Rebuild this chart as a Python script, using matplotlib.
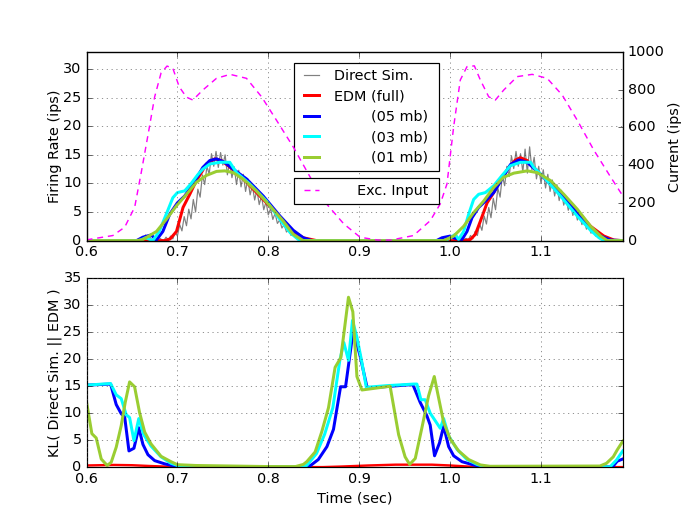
import numpy as np
import matplotlib
matplotlib.use('Agg')
import matplotlib.pyplot as plt

plt.style.use('classic')

# ---------------- верхній графік: частота спайків ----------------
# прямий розрахунок (шумна крива), крок 0.0025 с
gray_step = 0.0025
gray_start1 = 0.6625
gray_vals1 = [0.3, 1.0, 0.2, 0.6, 0.0, 0.4, 0.1, 0.5, 0.2, 0.0,
              0.6, 0.1, 0.8, 0.3, 1.5, 0.8, 2.8, 1.7, 4.2, 2.6,
              5.5, 3.8, 7.2, 5.0, 9.0, 7.6, 11.5, 9.8, 13.0, 11.6,
              15.2, 13.0, 15.6, 12.8, 15.4, 13.2, 15.0, 11.5, 13.8, 11.0,
              12.9, 9.8, 12.3, 9.4, 11.6, 8.6, 10.8, 8.0, 9.6, 7.1,
              8.9, 6.3, 7.8, 5.4, 6.8, 4.5, 5.6, 3.7, 4.8, 3.0,
              3.6, 2.2, 2.8, 1.5, 1.9, 0.9, 1.2, 0.5, 0.7, 0.2,
              0.3, 0.0, 0.1, 0.0]
gray_start2 = 0.995
gray_vals2 = [0.2, 0.6, 0.1, 0.5, 0.0, 0.3, 0.1, 0.6, 0.2, 0.4,
              0.1, 0.9, 0.3, 1.6, 0.9, 2.9, 1.8, 4.3, 2.9, 5.8,
              4.0, 7.4, 5.4, 9.2, 7.6, 11.4, 9.6, 13.0, 11.2, 14.8,
              12.6, 15.6, 13.0, 15.2, 12.0, 16.0, 11.8, 16.4, 12.4, 14.6,
              10.8, 13.0, 10.0, 12.4, 9.2, 11.6, 8.6, 10.6, 7.8, 9.8,
              7.0, 8.8, 6.2, 7.6, 5.3, 6.6, 4.4, 5.6, 3.6, 4.6,
              2.8, 3.6, 2.0, 2.6, 1.3, 1.8, 0.8, 1.1, 0.4, 0.6,
              0.2, 0.3, 0.0, 0.1, 0.0]

red_t = [0.600, 0.686, 0.692, 0.699, 0.7062, 0.7136, 0.7209, 0.7264, 0.7319, 0.7411,
         0.7485, 0.7558, 0.7687, 0.7834, 0.7981, 0.8128, 0.8275, 0.8385, 0.8532,
         1.015, 1.0223, 1.0278, 1.0333, 1.0407, 1.048, 1.0553, 1.0645, 1.0719, 1.0774,
         1.0848, 1.0958, 1.1105, 1.1251, 1.1399, 1.1546, 1.1692, 1.1803, 1.190]
red_v = [0, 0, 0.3, 1.6, 5.8, 8.1, 10.5, 11.9, 13.4, 14.3,
         14.0, 13.1, 11.4, 9.0, 6.6, 4.0, 1.6, 0.5, 0,
         0, 0.2, 1.1, 3.4, 6.6, 8.4, 10.5, 12.8, 14.1, 14.5,
         14.0, 12.2, 9.9, 7.5, 5.2, 2.5, 0.8, 0.1, 0]

blue_t = [0.600, 0.655, 0.662, 0.6713, 0.6768, 0.684, 0.6915, 0.700, 0.708, 0.7147,
          0.7228, 0.728, 0.7356, 0.743, 0.752, 0.7613, 0.776, 0.7944, 0.8128, 0.8275,
          0.8385, 0.848,
          0.985, 0.9911, 1.0002, 1.0057, 1.0131, 1.0186, 1.0241, 1.0314, 1.0388, 1.048,
          1.0572, 1.0664, 1.0756, 1.0848, 1.0995, 1.118, 1.1362, 1.1546, 1.1656, 1.1766, 1.190]
blue_v = [0, 0, 0.6, 1.0, 0.1, 1.6, 4.6, 6.6, 7.8, 9.3,
          11.4, 12.8, 14.0, 14.3, 13.7, 12.5, 10.8, 7.8, 4.3, 1.8,
          0.5, 0,
          0, 0.5, 0.8, 0.4, 0.2, 1.6, 4.0, 5.8, 6.9, 8.4,
          10.8, 13.3, 14.1, 13.7, 11.6, 8.7, 5.5, 2.2, 0.8, 0.1, 0]

cyan_t = [0.600, 0.658, 0.665, 0.673, 0.680, 0.6877, 0.695, 0.700, 0.708, 0.7147,
          0.7228, 0.728, 0.7356, 0.7466, 0.7576, 0.765, 0.7797, 0.798, 0.8128, 0.824,
          0.833, 0.838,
          0.995, 1.0002, 1.0057, 1.0093, 1.0149, 1.0204, 1.0259, 1.0314, 1.0388, 1.048,
          1.0572, 1.0664, 1.0774, 1.0884, 1.0921, 1.1031, 1.1215, 1.1399, 1.1546, 1.1638,
          1.1692, 1.190]
cyan_v = [0, 0, 0.5, 0, 1.6, 4.6, 7.5, 8.4, 8.7, 9.9,
          11.6, 12.5, 13.4, 13.7, 13.7, 11.9, 9.9, 6.9, 3.7, 1.4,
          0.2, 0,
          0, 0.5, 1.1, 0.2, 1.6, 4.6, 7.2, 8.1, 8.4, 9.6,
          11.4, 13.1, 13.7, 13.7, 12.8, 11.1, 7.8, 4.3, 1.8, 0.5,
          0, 0]

green_t = [0.600, 0.655, 0.6621, 0.677, 0.6877, 0.699, 0.710, 0.7209, 0.7319, 0.743,
           0.752, 0.7613, 0.772, 0.787, 0.8018, 0.8165, 0.8275, 0.8385,
           0.9929, 1.0039, 1.0149, 1.0259, 1.0369, 1.048, 1.059, 1.0701, 1.0848, 1.0958,
           1.1105, 1.1251, 1.1399, 1.1546, 1.1656, 1.173, 1.190]
green_v = [0, 0, 0.2, 1.6, 3.7, 6.1, 8.1, 10.2, 11.4, 12.1,
           12.2, 11.9, 10.8, 8.7, 6.1, 3.4, 1.1, 0,
           0, 0.8, 2.5, 4.9, 6.9, 9.3, 11.1, 11.8, 12.2, 11.9,
           10.5, 8.1, 5.5, 2.5, 0.8, 0, 0]

# збуджувальний вхід (права вісь)
exc_t = [0.600, 0.629, 0.642, 0.653, 0.660, 0.668, 0.675, 0.682, 0.6886, 0.695,
         0.702, 0.710, 0.717, 0.728, 0.743, 0.758, 0.776, 0.7926, 0.809, 0.8275,
         0.846, 0.864, 0.883, 0.901, 0.920, 0.935,
         0.9598, 0.9782, 0.9892, 0.9966, 1.0039, 1.0112, 1.0186, 1.0267, 1.0333, 1.0425,
         1.0498, 1.059, 1.0738, 1.0903, 1.1068, 1.1234, 1.1399, 1.1582, 1.1766, 1.190]
exc_v = [4, 27, 71, 177, 355, 569, 762, 888, 925, 913,
         815, 760, 745, 798, 860, 881, 860, 762, 638, 496,
         337, 195, 89, 18, 3, 3,
         27, 106, 195, 301, 603, 851, 922, 926, 851, 762,
         745, 798, 869, 881, 860, 771, 638, 479, 337, 237]

# ---------------- нижній графік: KL-дивергенція ----------------
kl_blue_t = [0.600, 0.6265, 0.6327, 0.6382, 0.642, 0.6467, 0.6522, 0.6575, 0.6621, 0.6676,
             0.675, 0.686, 0.6995, 0.710, 0.840, 0.8465, 0.855, 0.8645, 0.8717, 0.8795,
             0.885, 0.8935, 0.901, 0.9085, 0.912, 0.935, 0.958, 0.9598, 0.9671, 0.9745,
             0.9781, 0.9829, 0.9884, 0.9929, 0.9984, 1.0039, 1.0131, 1.0259, 1.035, 1.175,
             1.1795, 1.1839, 1.190]
kl_blue_v = [15.2, 15.4, 11.6, 9.9, 9.3, 3.0, 3.5, 7.3, 4.2, 2.3,
             1.2, 0.6, 0.1, 0.05, 0.05, 0.3, 1.4, 3.8, 7.0, 14.9,
             14.9, 25.4, 20.6, 14.9, 14.7, 15.0, 15.3, 15.0, 12.0, 9.5,
             7.8, 2.1, 4.5, 7.6, 3.8, 2.1, 1.0, 0.4, 0.05, 0.05,
             0.2, 1.1, 1.5]

kl_cyan_t = [0.600, 0.6265, 0.6327, 0.6382, 0.6437, 0.6474, 0.6522, 0.6575, 0.663, 0.671,
             0.682, 0.693, 0.700, 0.710, 0.835, 0.8423, 0.853, 0.862, 0.871, 0.8787,
             0.8831, 0.8882, 0.8926, 0.8975, 0.903, 0.9078, 0.930, 0.9599, 0.9635, 0.9679,
             0.9726, 0.9781, 0.9892, 0.9929, 0.9984, 1.0076, 1.0186, 1.0296, 1.037, 1.176,
             1.183, 1.190]
kl_cyan_v = [15.2, 15.5, 13.4, 12.7, 9.7, 9.2, 4.9, 9.0, 6.0, 3.9,
             1.9, 0.7, 0.3, 0.05, 0.05, 0.3, 2.5, 6.1, 11.0, 19.8,
             23.1, 19.8, 27.2, 24.1, 19.4, 14.8, 15.1, 15.4, 15.4, 12.5,
             12.5, 10.0, 7.2, 9.0, 5.8, 3.3, 1.4, 0.5, 0.1, 0.05,
             1.3, 3.0]

kl_green_t = [0.600, 0.6059, 0.6107, 0.6162, 0.6228, 0.6272, 0.6327, 0.6382, 0.6426, 0.6474,
              0.6529, 0.6584, 0.664, 0.671, 0.682, 0.693, 0.700, 0.720, 0.760, 0.800,
              0.830, 0.8386, 0.8423, 0.8515, 0.8589, 0.8662, 0.8735, 0.8798, 0.8882, 0.893,
              0.8975, 0.903, 0.934, 0.9434, 0.9505, 0.9555, 0.9617, 0.969, 0.9763, 0.9826,
              0.9873, 0.9929, 1.0002, 1.0094, 1.0204, 1.0333, 1.044, 1.1648, 1.172, 1.1795,
              1.1839, 1.190]
kl_green_v = [12.1, 6.2, 5.4, 1.5, 0.3, 0.9, 3.7, 7.7, 12.0, 15.8,
              14.9, 10.1, 6.5, 4.3, 2.0, 1.0, 0.45, 0.3, 0.2, 0.1,
              0.1, 0.5, 1.0, 2.8, 6.6, 11.0, 18.5, 20.3, 31.5, 28.8,
              16.8, 14.3, 15.0, 6.0, 1.9, 0.5, 1.6, 7.3, 13.2, 16.8,
              12.9, 8.3, 5.2, 3.0, 1.4, 0.4, 0.15, 0.2, 0.7, 1.9,
              3.2, 4.8]

kl_red_t = [0.600, 0.630, 0.650, 0.670, 0.690, 0.710, 0.860, 0.880, 0.910, 0.940,
            0.980, 1.000, 1.020, 1.040, 1.190]
kl_red_v = [0.3, 0.4, 0.35, 0.2, 0.08, 0.0, 0.0, 0.1, 0.3, 0.45,
            0.45, 0.3, 0.1, 0.0, 0.0]

# повна сітка для шумної кривої
t_fine = np.round(np.arange(0.6, 1.19 + 1e-9, gray_step), 4)
gray = np.zeros_like(t_fine)
i1 = int(round((gray_start1 - 0.6) / gray_step))
gray[i1:i1 + len(gray_vals1)] = gray_vals1
i2 = int(round((gray_start2 - 0.6) / gray_step))
gray[i2:i2 + len(gray_vals2)] = gray_vals2

yellowgreen = '#9acd32'
cyan = '#00ffff'
magenta = '#ff00ff'
pad = ' ' * 8
lw = 2.5

fig = plt.figure(figsize=(8, 6), facecolor='white')

ax1 = fig.add_subplot(211)
ax1.plot(t_fine, gray, color='gray', lw=1, label='Direct Sim.')
ax1.plot(red_t, red_v, color='r', lw=lw, label='EDM (full)')
ax1.plot(blue_t, blue_v, color='b', lw=lw, label=pad + '(05 mb)')
ax1.plot(cyan_t, cyan_v, color=cyan, lw=lw, label=pad + '(03 mb)')
ax1.plot(green_t, green_v, color=yellowgreen, lw=lw, label=pad + '(01 mb)')
ax1.set_xlim(0.6, 1.19)
ax1.set_ylim(0, 33)
ax1.set_yticks(range(0, 31, 5))
ax1.grid(True, color='0.3')
ax1.set_ylabel('Firing Rate (ips)', labelpad=1)
ax1.legend(loc='upper left', bbox_to_anchor=(0.387, 0.941, 0.271, 0.0), mode='expand',
           borderaxespad=0, fontsize=12, handlelength=1.6, labelspacing=0.45)

ax2 = ax1.twinx()
ax2.plot(exc_t, exc_v, color=magenta, ls='--', dashes=(5, 4), lw=1.2, label='     Exc. Input')
ax2.set_xlim(0.6, 1.19)
ax2.set_ylim(0, 1000)
ax2.set_ylabel('Current (ips)', labelpad=3)
ax2.legend(loc='upper left', bbox_to_anchor=(0.387, 0.33, 0.271, 0.0), mode='expand',
           borderaxespad=0, fontsize=12, handlelength=1.6)

ax3 = fig.add_subplot(212)
ax3.plot(kl_red_t, kl_red_v, color='r', lw=2)
ax3.plot(kl_blue_t, kl_blue_v, color='b', lw=lw)
ax3.plot(kl_cyan_t, kl_cyan_v, color=cyan, lw=lw)
ax3.plot(kl_green_t, kl_green_v, color=yellowgreen, lw=lw)
ax3.set_xlim(0.6, 1.19)
ax3.set_ylim(0, 35)
ax3.grid(True, color='0.3')
ax3.set_xlabel('Time (sec)')
ax3.set_ylabel('KL( Direct Sim. || EDM )', labelpad=1)

fig.savefig('out.png', dpi=86.5, facecolor='white')
